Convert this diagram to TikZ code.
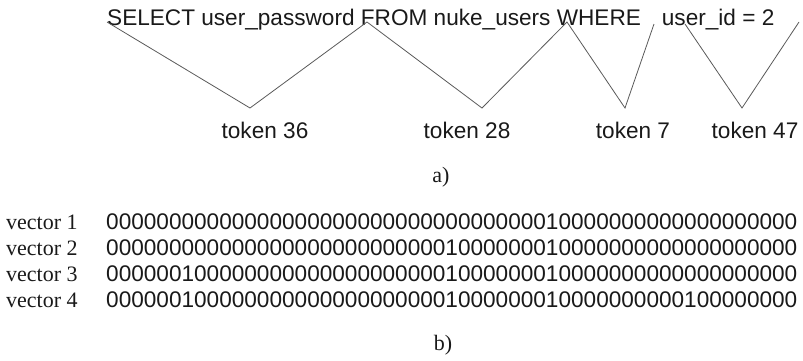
\documentclass[tikz,border=0pt]{standalone}
\usepackage{fontspec}
\setmainfont{Liberation Serif}
\newfontfamily\hvfont{Liberation Sans}
\ExplSyntaxOn
\cs_new:Npn \myzeros #1 { \prg_replicate:nn {#1} {0} }
\ExplSyntaxOff
\begin{document}
\begin{tikzpicture}[x=1pt,y=-1pt,
  sanstxt/.style={font=\hvfont\fontsize{22.6}{27}\selectfont, inner sep=0pt, text=black!90},
  digits/.style={font=\hvfont\fontsize{22.6}{27}\selectfont, inner sep=0pt, anchor=base west, text=black!90},
  serifts/.style={font=\fontsize{22}{26}\selectfont, inner sep=0pt, text=black!90},
  tokline/.style={draw=black!65, line width=0.8pt}]
\useasboundingbox (0,0) rectangle (803,360);

% part a)
\node[sanstxt, anchor=base west] (sql) at (107,25) {SELECT user\_password FROM nuke\_users WHERE\hspace{21pt}user\_id = 2};

\coordinate (p0) at (107,22);
\coordinate (p1) at (367,22);
\coordinate (p2) at (567,22);
\coordinate (p3) at (654,24);
\coordinate (p4) at (685,24);
\coordinate (p5) at (799,22);
\coordinate (t1) at (250,108);
\coordinate (t2) at (482,108);
\coordinate (t3) at (625,108);
\coordinate (t4) at (742,108);

\draw[tokline] (p0) -- (t1) -- (p1) -- (t2) -- (p2) -- (t3) -- (p3);
\draw[tokline] (p4) -- (t4) -- (p5);

\node[sanstxt, anchor=base] (tk36) at (265,138) {token 36};
\node[sanstxt, anchor=base] (tk28) at (467,138) {token 28};
\node[sanstxt, anchor=base] (tk7)  at (633,138) {token 7};
\node[sanstxt, anchor=base] (tk47) at (755,138) {token 47};

\node[serifts] (capa) at (441,177) {a)};

% part b)
\node[serifts, anchor=base west] (v1) at (6,229) {vector 1};
\node[serifts, anchor=base west] (v2) at (6,255) {vector 2};
\node[serifts, anchor=base west] (v3) at (6,281) {vector 3};
\node[serifts, anchor=base west] (v4) at (6,307) {vector 4};

\node[digits] (d1) at (106,229) {\myzeros{35}1\myzeros{19}};
\node[digits] (d2) at (106,255) {\myzeros{27}1\myzeros{7}1\myzeros{19}};
\node[digits] (d3) at (106,281) {\myzeros{6}1\myzeros{20}1\myzeros{7}1\myzeros{19}};
\node[digits] (d4) at (106,307) {\myzeros{6}1\myzeros{20}1\myzeros{7}1\myzeros{10}1\myzeros{8}};

\node[serifts] (capb) at (443,345) {b)};
\end{tikzpicture}
\end{document}
